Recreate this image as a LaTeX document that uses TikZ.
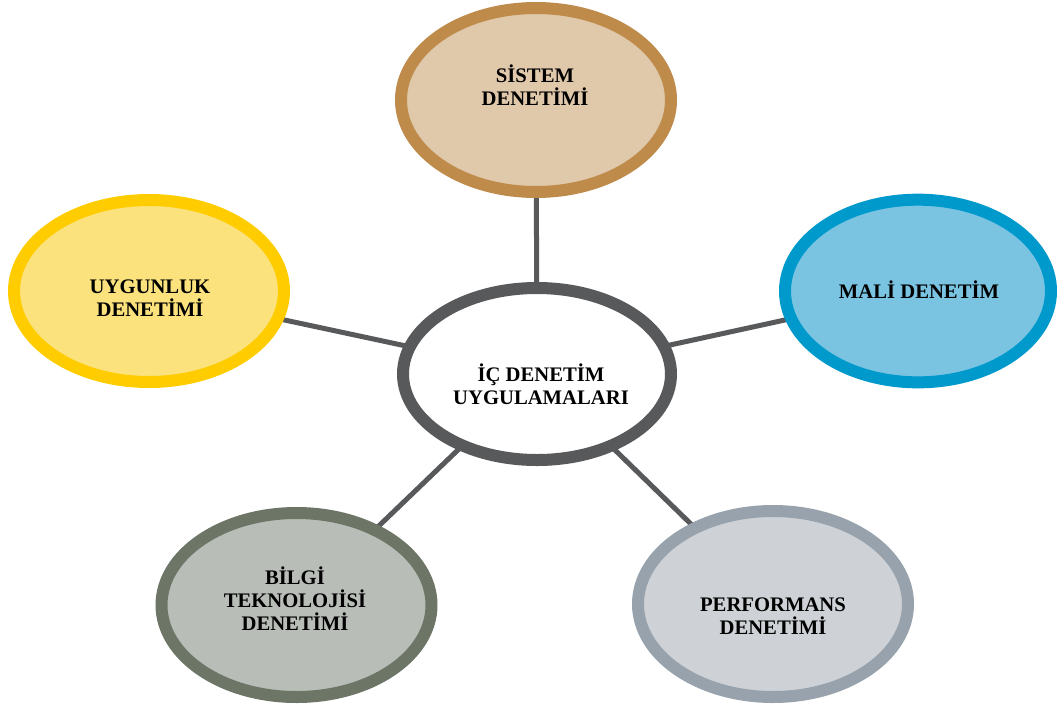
\documentclass[tikz,border=0pt]{standalone}
\usepackage{fontspec}
\setmainfont{Liberation Serif}
\usetikzlibrary{shapes.geometric,backgrounds}

% ring colours and their dotted-fill tints
\definecolor{sisRing}{RGB}{191,139,75}
\definecolor{sisFill}{RGB}{224,200,170}
\definecolor{midRing}{RGB}{88,89,91}
\definecolor{maliRing}{RGB}{0,153,204}
\definecolor{maliFill}{RGB}{122,196,226}
\definecolor{uygRing}{RGB}{255,204,0}
\definecolor{uygFill}{RGB}{251,226,125}
\definecolor{bilRing}{RGB}{108,117,102}
\definecolor{bilFill}{RGB}{184,189,183}
\definecolor{perfRing}{RGB}{152,162,172}
\definecolor{perfFill}{RGB}{206,210,214}
\definecolor{link}{RGB}{88,89,91}

\tikzset{
  bubble/.style={ellipse, draw=#1, line width=9pt, inner sep=0pt},
  caption/.style={font=\fontsize{15.5}{17.2}\selectfont\bfseries, align=center, inner sep=0pt, text=black},
  spoke/.style={draw=link, line width=3.75pt}
}

\begin{document}
\begin{tikzpicture}[x=0.75pt, y=-0.75pt]
\useasboundingbox (0,0) rectangle (1058,704);

% the six rings
\node[bubble=midRing, fill=white, minimum width=201pt, minimum height=129pt] (mid) at (537,374) {};
\node[bubble=sisRing, fill=sisFill, minimum width=202.5pt, minimum height=138pt] (sis) at (536,100) {};
\node[bubble=maliRing, fill=maliFill, minimum width=199.5pt, minimum height=137pt] (mali) at (918,291) {};
\node[bubble=uygRing, fill=uygFill, minimum width=202.5pt, minimum height=136.5pt] (uyg) at (149,291) {};
\node[bubble=bilRing, fill=bilFill, minimum width=202.5pt, minimum height=138pt] (bil) at (296.5,605) {};
\node[bubble=perfRing, fill=perfFill, minimum width=202.5pt, minimum height=139.5pt] (perf) at (773,604) {};

% ring captions
\node[caption] (midT) at (541,384.5) {İÇ DENETİM\\UYGULAMALARI};
\node[caption] (sisT) at (535,85.5) {SİSTEM\\DENETİMİ};
\node[caption] (maliT) at (919,290) {MALİ DENETİM};
\node[caption] (uygT) at (150,298.5) {UYGUNLUK\\DENETİMİ};
\node[caption] (bilT) at (295,598.5) {BİLGİ\\TEKNOLOJİSİ\\DENETİMİ};
\node[caption] (perfT) at (773,616.5) {PERFORMANS\\DENETİMİ};

% spokes from the hub, hidden under the filled rings
\begin{pgfonlayer}{background}
  \draw[spoke] (mid.center) -- (sis.center);
  \draw[spoke] (mid.center) -- (mali.center);
  \draw[spoke] (mid.center) -- (uyg.center);
  \draw[spoke] (mid.center) -- (bil.center);
  \draw[spoke] (mid.center) -- (perf.center);
\end{pgfonlayer}
\end{tikzpicture}
\end{document}
